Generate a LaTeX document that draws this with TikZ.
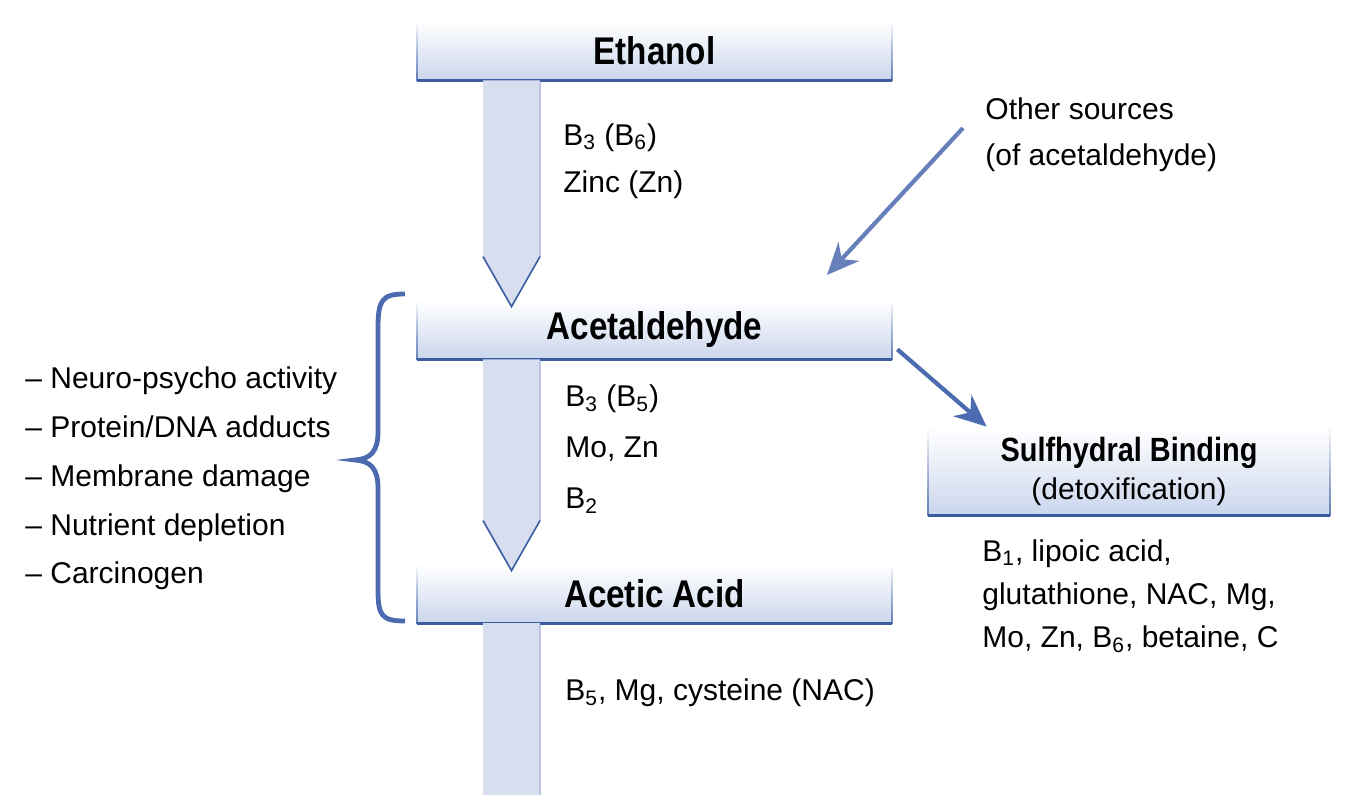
\documentclass[tikz,border=0pt]{standalone}
\usepackage{fontspec}
\setmainfont{Liberation Sans}
\newfontfamily\headfont[FakeStretch=0.86]{Liberation Sans}
\usetikzlibrary{arrows.meta,calc,fadings}
\definecolor{boxblue}{RGB}{203,214,237}
\definecolor{edgeblue}{RGB}{60,92,162}
\definecolor{linkblue}{RGB}{76,106,175}
\definecolor{shaftblue}{RGB}{214,222,240}
\tikzset{
  chem/.style={shade, top color=white, bottom color=boxblue, inner sep=0pt,
    minimum width=237.5pt, minimum height=29pt, font=\headfont\bfseries\fontsize{19.3}{22}\selectfont},
  note/.style={anchor=west, align=left, inner sep=0pt, font=\fontsize{15}{23.5}\selectfont},
  link/.style={linkblue, line width=2.1pt, -{Stealth[length=16pt,width=14pt]}},
}
% open box edges: sides fade out upwards
\newcommand\boxedges[1]{%
  \draw[edgeblue!80, line width=1pt, path fading=north] (#1.north west)--(#1.south west)--(#1.south east)--(#1.north east);
  \draw[edgeblue, line width=1.5pt] (#1.south west)--(#1.south east);}
\begin{document}
\begin{tikzpicture}[x=0.5pt, y=-0.5pt]
\useasboundingbox[fill=white] (0,0) rectangle (1350,795);

\node[chem] (ethanol) at (654.5,51) {Ethanol};
\node[chem] (acetald) at (654.5,330) {Acetaldehyde};
\node[chem] (acetic) at (654.5,594) {Acetic Acid};
\node[chem, minimum width=201pt, minimum height=44pt, align=center,
  font=\fontsize{15}{19}\selectfont] (sulf) at (1129,471)
  {{\headfont\bfseries\fontsize{16.8}{19}\selectfont Sulfhydral Binding}\\(detoxification)};
\foreach \n in {ethanol,acetald,acetic,sulf} {\boxedges{\n}}

% block arrows between the boxes
\foreach \a/\b in {ethanol/acetald, acetald/acetic} {
  \fill[shaftblue] ($(\a.south)+(-171.5,0)$) -- ($(\b.north)+(-171.5,-44)$) -- ($(\b.north)+(-143,6)$)
    -- ($(\b.north)+(-114.5,-44)$) -- ($(\a.south)+(-114.5,0)$) -- cycle;
  \draw[edgeblue!35, line width=.8pt] ($(\a.south)+(-114.5,2)$) -- ($(\b.north)+(-114.5,-44)$);
  \draw[edgeblue, line width=.8pt] ($(\b.north)+(-171.5,-44)$) -- ($(\b.north)+(-143,6)$) -- ($(\b.north)+(-114.5,-44)$);
}
\fill[shaftblue] ($(acetic.south)+(-171.5,0)$) rectangle ($(acetic.south)+(-114.5,200)$);
\draw[edgeblue!35, line width=.8pt] ($(acetic.south)+(-114.5,2)$) -- ($(acetic.south)+(-114.5,200)$);

\node[note] (cof1) at (563,161) {B\textsubscript{3} (B\textsubscript{6})\\Zinc (Zn)};
\node[note, font=\fontsize{15}{25.5}\selectfont] (cof2) at (565,449) {B\textsubscript{3} (B\textsubscript{5})\\Mo, Zn\\B\textsubscript{2}};
\node[note] (cof3) at (565,693) {B\textsubscript{5}, Mg, cysteine (NAC)};
\node[note, font=\fontsize{15}{23}\selectfont] (other) at (985,135) {Other sources\\(of acetaldehyde)};
\node[note, font=\fontsize{15}{21.5}\selectfont] (cof4) at (982,596)
  {B\textsubscript{1}, lipoic acid,\\glutathione, NAC, Mg,\\Mo, Zn, B\textsubscript{6}, betaine, C};
\node[note, font=\fontsize{15}{24.4}\selectfont] (effects) at (25,478.5)
  {-- Neuro-psycho activity\\-- Protein/DNA adducts\\-- Membrane damage\\-- Nutrient depletion\\-- Carcinogen};

% thin arrows
\coordinate (srcend) at (827,275);
\coordinate (sulfend) at ($(sulf.north west)+(59,0)$);
\draw[link, linkblue!85] ([shift={(-22,-7)}]other.west) -- (srcend);
\draw[link] ([shift={(5,-10)}]acetald.south east) -- (sulfend);

% brace
\draw[linkblue, line width=2.4pt] (405,294) .. controls (382,294) and (378,300) .. (378,328) -- (378,432)
  .. controls (378,452) and (370,459) .. (355,460) .. controls (370,461) and (378,468) .. (378,488)
  -- (378,590) .. controls (378,616) and (382,621) .. (405,621);
\end{tikzpicture}
\end{document}
